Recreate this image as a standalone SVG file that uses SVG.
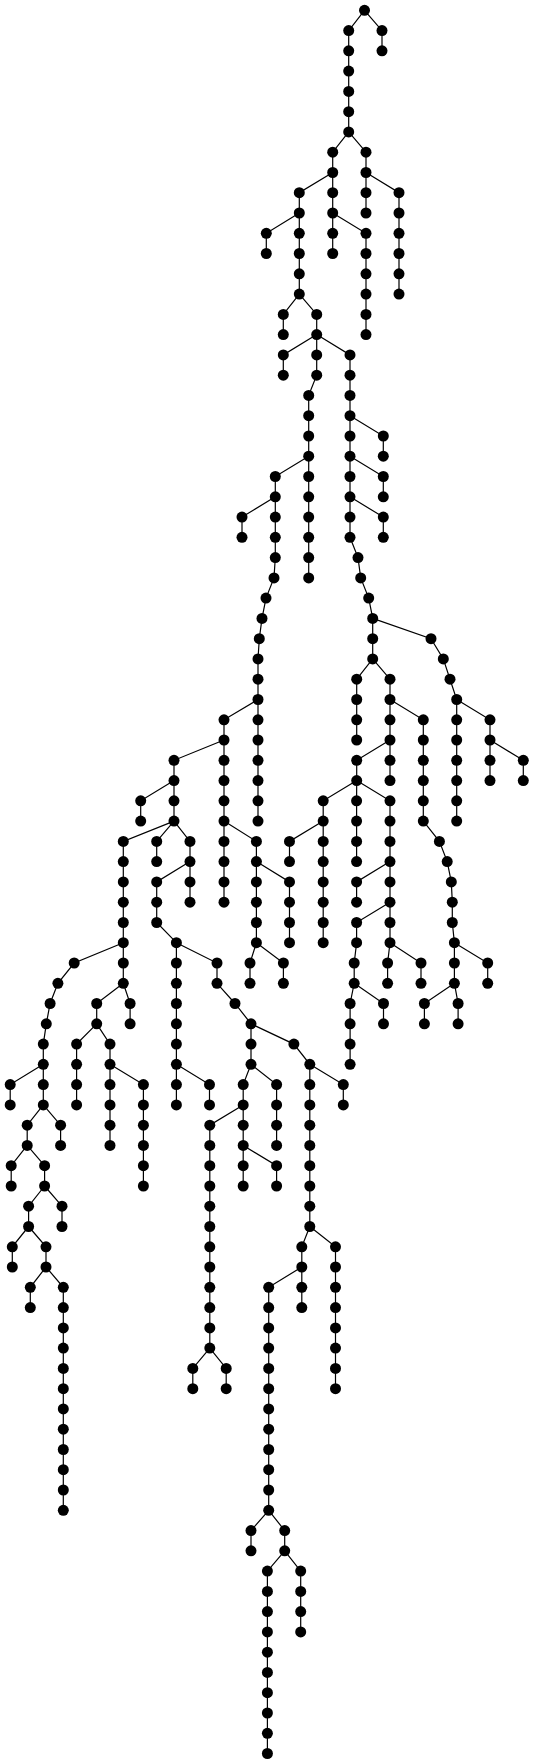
<svg xmlns="http://www.w3.org/2000/svg" width="534" height="1763" viewBox="0 0 534 1763">
<style>
#edges polyline{fill:none;stroke:#000;stroke-width:1.2}
circle{fill:#000}
</style>
<rect width="534" height="1763" fill="#fff"/>
<g id="edges">
<polyline points="364.5,10.3 348.7,30.6 348.7,131.9"/>
<polyline points="364.5,10.3 382,30.6 382,50.8"/>
<polyline points="348.7,131.9 332.7,152.2 332.7,253.5"/>
<polyline points="348.7,131.9 366,152.2 366,213"/>
<polyline points="366,172.5 399,192.7 399,294.1"/>
<polyline points="332.7,172.5 299.3,192.7 299.3,294.1"/>
<polyline points="299.3,213 266.3,233.3 266.3,253.5"/>
<polyline points="332.7,213 366,233.3 366,334.6"/>
<polyline points="299.3,294.1 283.3,314.4 283.3,334.6"/>
<polyline points="299.3,294.1 316.7,314.4 316.7,334.6"/>
<polyline points="316.7,334.6 283.3,354.9 283.3,375.2"/>
<polyline points="316.7,334.6 316.7,375.2 308.7,395.4 308.7,577.9"/>
<polyline points="316.7,334.6 350,354.9 350,537.3 358,557.6 360.7,577.9 368.7,598.1 372.7,618.4 372.7,658.9"/>
<polyline points="350,415.7 383.3,436 383.3,456.2"/>
<polyline points="350,456.2 383.3,476.5 383.3,496.8"/>
<polyline points="350,496.8 383.3,517.1 383.3,537.3"/>
<polyline points="308.7,456.2 275.3,476.5 275.3,557.6 274,577.9 266,598.1 262,618.4 259.3,638.7 258,658.9 258,821.1"/>
<polyline points="275.3,496.8 242,517.1 242,537.3"/>
<polyline points="258,699.5 224,719.8 224,902.2"/>
<polyline points="224,740 174,760.3 174,821.1"/>
<polyline points="174,780.6 140.7,800.8 140.7,821.1"/>
<polyline points="174,821.1 123.3,841.4 123.3,983.3"/>
<polyline points="174,821.1 156.7,841.4 156.7,861.6"/>
<polyline points="174,821.1 190,841.4 190,902.2"/>
<polyline points="190,861.6 156.7,881.9 156.7,922.5 176.4,942.7 176.4,1104.9"/>
<polyline points="176.4,942.7 217,963 217,983.3 235,1003.5 251,1023.8 251,1064.3"/>
<polyline points="176.4,1064.3 209.5,1084.6 209.5,1104.9"/>
<polyline points="251,1064.3 243.2,1084.6 243.2,1186"/>
<polyline points="251,1064.3 276.6,1084.6 276.6,1145.4"/>
<polyline points="243.2,1104.9 209.8,1125.2 209.8,1348.1"/>
<polyline points="209.8,1348.1 192.8,1368.4 192.8,1388.7"/>
<polyline points="209.8,1348.1 226.2,1368.4 226.2,1388.7"/>
<polyline points="243.2,1145.4 276.6,1165.7 276.6,1186"/>
<polyline points="251,1023.8 293.9,1044.1 309.8,1064.3 309.8,1226.5"/>
<polyline points="309.8,1064.3 343.3,1084.6 343.3,1104.9"/>
<polyline points="309.8,1226.5 301.8,1246.8 301.8,1307.6"/>
<polyline points="309.8,1226.5 335.5,1246.8 335.5,1388.7"/>
<polyline points="301.8,1267 268.7,1287.3 268.7,1510.3"/>
<polyline points="268.7,1510.3 251,1530.6 251,1550.8"/>
<polyline points="268.7,1510.3 284.7,1530.6 284.7,1550.8"/>
<polyline points="284.7,1550.8 267.4,1571.1 267.4,1753.5"/>
<polyline points="284.7,1550.8 300.7,1571.1 300.7,1631.9"/>
<polyline points="123.3,942.7 74.2,963 57.9,983.3 50.1,1003.5 46.3,1023.8 43.3,1044.1 43.3,1104.9"/>
<polyline points="123.3,983.3 96.7,1003.5 96.7,1023.8"/>
<polyline points="123.3,983.3 130.1,1003.5 130.1,1023.8"/>
<polyline points="96.7,1023.8 76.6,1044.1 76.6,1104.9"/>
<polyline points="96.7,1023.8 110,1044.1 110,1145.4"/>
<polyline points="110,1064.3 143.4,1084.6 143.4,1186"/>
<polyline points="43.3,1064.3 10.2,1084.6 10.2,1104.9"/>
<polyline points="43.3,1104.9 27.2,1125.2 27.2,1145.4"/>
<polyline points="43.3,1104.9 60.6,1125.2 60.6,1145.4"/>
<polyline points="27.2,1145.4 11.2,1165.7 11.2,1186"/>
<polyline points="27.2,1145.4 44.6,1165.7 44.6,1186"/>
<polyline points="44.6,1186 28.6,1206.2 28.6,1226.5"/>
<polyline points="44.6,1186 62,1206.2 62,1226.5"/>
<polyline points="28.6,1226.5 12.3,1246.8 12.3,1267"/>
<polyline points="28.6,1226.5 46,1246.8 46,1267"/>
<polyline points="46,1267 30.3,1287.3 30.3,1307.6"/>
<polyline points="46,1267 63.3,1287.3 63.3,1510.3"/>
<polyline points="372.7,658.9 356.7,679.2 356.7,740"/>
<polyline points="372.7,658.9 390,679.2 390,780.6"/>
<polyline points="372.7,618.4 431,638.7 443.3,658.9 450,679.2 456.7,699.5 456.7,821.1"/>
<polyline points="456.7,699.5 490,719.8 490,780.6"/>
<polyline points="490,740 523.3,760.3 523.3,780.6"/>
<polyline points="390,699.5 423.3,719.8 423.3,821.1 439.4,841.4 447.2,861.6 451.3,881.9 452.3,902.2 452.3,922.5 454.4,942.7 454.4,983.3"/>
<polyline points="454.4,942.7 487.7,963 487.7,983.3"/>
<polyline points="454.4,983.3 424.4,1003.5 424.4,1023.8"/>
<polyline points="454.4,983.3 458.1,1003.5 458.1,1023.8"/>
<polyline points="390,740 356.7,760.3 356.7,780.6"/>
<polyline points="356.7,780.6 323.2,800.8 323.2,942.7"/>
<polyline points="356.7,780.6 356.6,800.8 356.6,861.6"/>
<polyline points="356.7,780.6 390,800.8 390,942.7"/>
<polyline points="323.2,821.1 289.5,841.4 289.5,861.6"/>
<polyline points="390,861.6 356.6,881.9 356.6,902.2"/>
<polyline points="390,902.2 356.6,922.5 356.6,942.7 354.2,963 354.2,983.3 350.1,1003.5 350.1,1064.3"/>
<polyline points="354.2,983.3 383.5,1003.5 383.5,1023.8"/>
<polyline points="390,942.7 387.6,963 387.6,983.3"/>
<polyline points="390,942.7 421,963 421,983.3"/>
<polyline points="224,821.1 256.4,841.4 256.4,942.7"/>
<polyline points="256.4,861.6 289.5,881.9 289.5,942.7"/>
<polyline points="256.4,942.7 250,963 250,983.3"/>
<polyline points="256.4,942.7 283.4,963 283.4,983.3"/>
</g>
<g id="nodes">
<g id="root"><circle cx="364.5" cy="10.3" r="5.5"/></g>
<g id="a1"><circle cx="348.7" cy="30.6" r="5.5"/></g>
<g id="a2"><circle cx="348.7" cy="50.8" r="5.5"/></g>
<g id="a3"><circle cx="348.7" cy="71.1" r="5.5"/></g>
<g id="a4"><circle cx="348.7" cy="91.4" r="5.5"/></g>
<g id="a5"><circle cx="348.7" cy="111.7" r="5.5"/></g>
<g id="a6"><circle cx="348.7" cy="131.9" r="5.5"/></g>
<g id="b1"><circle cx="382" cy="30.6" r="5.5"/></g>
<g id="b2"><circle cx="382" cy="50.8" r="5.5"/></g>
<g id="A1"><circle cx="332.7" cy="152.2" r="5.5"/></g>
<g id="A2"><circle cx="332.7" cy="172.5" r="5.5"/></g>
<g id="A3"><circle cx="332.7" cy="192.7" r="5.5"/></g>
<g id="A4"><circle cx="332.7" cy="213" r="5.5"/></g>
<g id="A5"><circle cx="332.7" cy="233.3" r="5.5"/></g>
<g id="A6"><circle cx="332.7" cy="253.5" r="5.5"/></g>
<g id="B1"><circle cx="366" cy="152.2" r="5.5"/></g>
<g id="B2"><circle cx="366" cy="172.5" r="5.5"/></g>
<g id="B3"><circle cx="366" cy="192.7" r="5.5"/></g>
<g id="B4"><circle cx="366" cy="213" r="5.5"/></g>
<g id="C1"><circle cx="399" cy="192.7" r="5.5"/></g>
<g id="C2"><circle cx="399" cy="213" r="5.5"/></g>
<g id="C3"><circle cx="399" cy="233.3" r="5.5"/></g>
<g id="C4"><circle cx="399" cy="253.5" r="5.5"/></g>
<g id="C5"><circle cx="399" cy="273.8" r="5.5"/></g>
<g id="C6"><circle cx="399" cy="294.1" r="5.5"/></g>
<g id="D1"><circle cx="299.3" cy="192.7" r="5.5"/></g>
<g id="D2"><circle cx="299.3" cy="213" r="5.5"/></g>
<g id="D3"><circle cx="299.3" cy="233.3" r="5.5"/></g>
<g id="D4"><circle cx="299.3" cy="253.5" r="5.5"/></g>
<g id="D5"><circle cx="299.3" cy="273.8" r="5.5"/></g>
<g id="D6"><circle cx="299.3" cy="294.1" r="5.5"/></g>
<g id="E1"><circle cx="266.3" cy="233.3" r="5.5"/></g>
<g id="E2"><circle cx="266.3" cy="253.5" r="5.5"/></g>
<g id="F1"><circle cx="366" cy="233.3" r="5.5"/></g>
<g id="F2"><circle cx="366" cy="253.5" r="5.5"/></g>
<g id="F3"><circle cx="366" cy="273.8" r="5.5"/></g>
<g id="F4"><circle cx="366" cy="294.1" r="5.5"/></g>
<g id="F5"><circle cx="366" cy="314.4" r="5.5"/></g>
<g id="F6"><circle cx="366" cy="334.6" r="5.5"/></g>
<g id="G1"><circle cx="283.3" cy="314.4" r="5.5"/></g>
<g id="G2"><circle cx="283.3" cy="334.6" r="5.5"/></g>
<g id="H1"><circle cx="316.7" cy="314.4" r="5.5"/></g>
<g id="H2"><circle cx="316.7" cy="334.6" r="5.5"/></g>
<g id="I1"><circle cx="283.3" cy="354.9" r="5.5"/></g>
<g id="I2"><circle cx="283.3" cy="375.2" r="5.5"/></g>
<g id="J1"><circle cx="316.7" cy="354.9" r="5.5"/></g>
<g id="J2"><circle cx="316.7" cy="375.2" r="5.5"/></g>
<g id="J3"><circle cx="308.7" cy="395.4" r="5.5"/></g>
<g id="J4"><circle cx="308.7" cy="415.7" r="5.5"/></g>
<g id="J5"><circle cx="308.7" cy="436" r="5.5"/></g>
<g id="J6"><circle cx="308.7" cy="456.2" r="5.5"/></g>
<g id="J7"><circle cx="308.7" cy="476.5" r="5.5"/></g>
<g id="J8"><circle cx="308.7" cy="496.8" r="5.5"/></g>
<g id="J9"><circle cx="308.7" cy="517.1" r="5.5"/></g>
<g id="J10"><circle cx="308.7" cy="537.3" r="5.5"/></g>
<g id="J11"><circle cx="308.7" cy="557.6" r="5.5"/></g>
<g id="J12"><circle cx="308.7" cy="577.9" r="5.5"/></g>
<g id="K1"><circle cx="350" cy="354.9" r="5.5"/></g>
<g id="K2"><circle cx="350" cy="375.2" r="5.5"/></g>
<g id="K3"><circle cx="350" cy="395.4" r="5.5"/></g>
<g id="K4"><circle cx="350" cy="415.7" r="5.5"/></g>
<g id="K5"><circle cx="350" cy="436" r="5.5"/></g>
<g id="K6"><circle cx="350" cy="456.2" r="5.5"/></g>
<g id="K7"><circle cx="350" cy="476.5" r="5.5"/></g>
<g id="K8"><circle cx="350" cy="496.8" r="5.5"/></g>
<g id="K9"><circle cx="350" cy="517.1" r="5.5"/></g>
<g id="K10"><circle cx="350" cy="537.3" r="5.5"/></g>
<g id="K11"><circle cx="358" cy="557.6" r="5.5"/></g>
<g id="K12"><circle cx="360.7" cy="577.9" r="5.5"/></g>
<g id="K13"><circle cx="368.7" cy="598.1" r="5.5"/></g>
<g id="K14"><circle cx="372.7" cy="618.4" r="5.5"/></g>
<g id="K15"><circle cx="372.7" cy="638.7" r="5.5"/></g>
<g id="K16"><circle cx="372.7" cy="658.9" r="5.5"/></g>
<g id="L1a"><circle cx="383.3" cy="436" r="5.5"/></g>
<g id="L1b"><circle cx="383.3" cy="456.2" r="5.5"/></g>
<g id="L2a"><circle cx="383.3" cy="476.5" r="5.5"/></g>
<g id="L2b"><circle cx="383.3" cy="496.8" r="5.5"/></g>
<g id="L3a"><circle cx="383.3" cy="517.1" r="5.5"/></g>
<g id="L3b"><circle cx="383.3" cy="537.3" r="5.5"/></g>
<g id="M1"><circle cx="275.3" cy="476.5" r="5.5"/></g>
<g id="M2"><circle cx="275.3" cy="496.8" r="5.5"/></g>
<g id="M3"><circle cx="275.3" cy="517.1" r="5.5"/></g>
<g id="M4"><circle cx="275.3" cy="537.3" r="5.5"/></g>
<g id="M5"><circle cx="275.3" cy="557.6" r="5.5"/></g>
<g id="M6"><circle cx="274" cy="577.9" r="5.5"/></g>
<g id="M7"><circle cx="266" cy="598.1" r="5.5"/></g>
<g id="M8"><circle cx="262" cy="618.4" r="5.5"/></g>
<g id="M9"><circle cx="259.3" cy="638.7" r="5.5"/></g>
<g id="M10"><circle cx="258" cy="658.9" r="5.5"/></g>
<g id="M11"><circle cx="258" cy="679.2" r="5.5"/></g>
<g id="M12"><circle cx="258" cy="699.5" r="5.5"/></g>
<g id="M13"><circle cx="258" cy="719.8" r="5.5"/></g>
<g id="M14"><circle cx="258" cy="740" r="5.5"/></g>
<g id="M15"><circle cx="258" cy="760.3" r="5.5"/></g>
<g id="M16"><circle cx="258" cy="780.6" r="5.5"/></g>
<g id="M17"><circle cx="258" cy="800.8" r="5.5"/></g>
<g id="M18"><circle cx="258" cy="821.1" r="5.5"/></g>
<g id="N1"><circle cx="242" cy="517.1" r="5.5"/></g>
<g id="N2"><circle cx="242" cy="537.3" r="5.5"/></g>
<g id="O1"><circle cx="224" cy="719.8" r="5.5"/></g>
<g id="O2"><circle cx="224" cy="740" r="5.5"/></g>
<g id="O3"><circle cx="224" cy="760.3" r="5.5"/></g>
<g id="O4"><circle cx="224" cy="780.6" r="5.5"/></g>
<g id="O5"><circle cx="224" cy="800.8" r="5.5"/></g>
<g id="O6"><circle cx="224" cy="821.1" r="5.5"/></g>
<g id="O7"><circle cx="224" cy="841.4" r="5.5"/></g>
<g id="O8"><circle cx="224" cy="861.6" r="5.5"/></g>
<g id="O9"><circle cx="224" cy="881.9" r="5.5"/></g>
<g id="O10"><circle cx="224" cy="902.2" r="5.5"/></g>
<g id="P1"><circle cx="174" cy="760.3" r="5.5"/></g>
<g id="P2"><circle cx="174" cy="780.6" r="5.5"/></g>
<g id="P3"><circle cx="174" cy="800.8" r="5.5"/></g>
<g id="P4"><circle cx="174" cy="821.1" r="5.5"/></g>
<g id="Q1"><circle cx="140.7" cy="800.8" r="5.5"/></g>
<g id="Q2"><circle cx="140.7" cy="821.1" r="5.5"/></g>
<g id="R1"><circle cx="123.3" cy="841.4" r="5.5"/></g>
<g id="R2"><circle cx="123.3" cy="861.6" r="5.5"/></g>
<g id="R3"><circle cx="123.3" cy="881.9" r="5.5"/></g>
<g id="R4"><circle cx="123.3" cy="902.2" r="5.5"/></g>
<g id="R5"><circle cx="123.3" cy="922.5" r="5.5"/></g>
<g id="R6"><circle cx="123.3" cy="942.7" r="5.5"/></g>
<g id="R7"><circle cx="123.3" cy="963" r="5.5"/></g>
<g id="R8"><circle cx="123.3" cy="983.3" r="5.5"/></g>
<g id="S1"><circle cx="156.7" cy="841.4" r="5.5"/></g>
<g id="S2"><circle cx="156.7" cy="861.6" r="5.5"/></g>
<g id="T1"><circle cx="190" cy="841.4" r="5.5"/></g>
<g id="T2"><circle cx="190" cy="861.6" r="5.5"/></g>
<g id="T3"><circle cx="190" cy="881.9" r="5.5"/></g>
<g id="T4"><circle cx="190" cy="902.2" r="5.5"/></g>
<g id="U1"><circle cx="156.7" cy="881.9" r="5.5"/></g>
<g id="U2"><circle cx="156.7" cy="902.2" r="5.5"/></g>
<g id="U3"><circle cx="156.7" cy="922.5" r="5.5"/></g>
<g id="U4"><circle cx="176.4" cy="942.7" r="5.5"/></g>
<g id="U5"><circle cx="176.4" cy="963" r="5.5"/></g>
<g id="U6"><circle cx="176.4" cy="983.3" r="5.5"/></g>
<g id="U7"><circle cx="176.4" cy="1003.5" r="5.5"/></g>
<g id="U8"><circle cx="176.4" cy="1023.8" r="5.5"/></g>
<g id="U9"><circle cx="176.4" cy="1044.1" r="5.5"/></g>
<g id="U10"><circle cx="176.4" cy="1064.3" r="5.5"/></g>
<g id="U11"><circle cx="176.4" cy="1084.6" r="5.5"/></g>
<g id="U12"><circle cx="176.4" cy="1104.9" r="5.5"/></g>
<g id="V1"><circle cx="217" cy="963" r="5.5"/></g>
<g id="V2"><circle cx="217" cy="983.3" r="5.5"/></g>
<g id="V3"><circle cx="235" cy="1003.5" r="5.5"/></g>
<g id="V4"><circle cx="251" cy="1023.8" r="5.5"/></g>
<g id="V5"><circle cx="251" cy="1044.1" r="5.5"/></g>
<g id="V6"><circle cx="251" cy="1064.3" r="5.5"/></g>
<g id="W1"><circle cx="209.5" cy="1084.6" r="5.5"/></g>
<g id="W2"><circle cx="209.5" cy="1104.9" r="5.5"/></g>
<g id="X1"><circle cx="243.2" cy="1084.6" r="5.5"/></g>
<g id="X2"><circle cx="243.2" cy="1104.9" r="5.5"/></g>
<g id="X3"><circle cx="243.2" cy="1125.2" r="5.5"/></g>
<g id="X4"><circle cx="243.2" cy="1145.4" r="5.5"/></g>
<g id="X5"><circle cx="243.2" cy="1165.7" r="5.5"/></g>
<g id="X6"><circle cx="243.2" cy="1186" r="5.5"/></g>
<g id="Y1"><circle cx="276.6" cy="1084.6" r="5.5"/></g>
<g id="Y2"><circle cx="276.6" cy="1104.9" r="5.5"/></g>
<g id="Y3"><circle cx="276.6" cy="1125.2" r="5.5"/></g>
<g id="Y4"><circle cx="276.6" cy="1145.4" r="5.5"/></g>
<g id="Z1"><circle cx="209.8" cy="1125.2" r="5.5"/></g>
<g id="Z2"><circle cx="209.8" cy="1145.4" r="5.5"/></g>
<g id="Z3"><circle cx="209.8" cy="1165.7" r="5.5"/></g>
<g id="Z4"><circle cx="209.8" cy="1186" r="5.5"/></g>
<g id="Z5"><circle cx="209.8" cy="1206.2" r="5.5"/></g>
<g id="Z6"><circle cx="209.8" cy="1226.5" r="5.5"/></g>
<g id="Z7"><circle cx="209.8" cy="1246.8" r="5.5"/></g>
<g id="Z8"><circle cx="209.8" cy="1267" r="5.5"/></g>
<g id="Z9"><circle cx="209.8" cy="1287.3" r="5.5"/></g>
<g id="Z10"><circle cx="209.8" cy="1307.6" r="5.5"/></g>
<g id="Z11"><circle cx="209.8" cy="1327.9" r="5.5"/></g>
<g id="Z12"><circle cx="209.8" cy="1348.1" r="5.5"/></g>
<g id="Za1"><circle cx="192.8" cy="1368.4" r="5.5"/></g>
<g id="Za2"><circle cx="192.8" cy="1388.7" r="5.5"/></g>
<g id="Zb1"><circle cx="226.2" cy="1368.4" r="5.5"/></g>
<g id="Zb2"><circle cx="226.2" cy="1388.7" r="5.5"/></g>
<g id="AA1"><circle cx="276.6" cy="1165.7" r="5.5"/></g>
<g id="AA2"><circle cx="276.6" cy="1186" r="5.5"/></g>
<g id="AB1"><circle cx="293.9" cy="1044.1" r="5.5"/></g>
<g id="AB2"><circle cx="309.8" cy="1064.3" r="5.5"/></g>
<g id="AB3"><circle cx="309.8" cy="1084.6" r="5.5"/></g>
<g id="AB4"><circle cx="309.8" cy="1104.9" r="5.5"/></g>
<g id="AB5"><circle cx="309.8" cy="1125.2" r="5.5"/></g>
<g id="AB6"><circle cx="309.8" cy="1145.4" r="5.5"/></g>
<g id="AB7"><circle cx="309.8" cy="1165.7" r="5.5"/></g>
<g id="AB8"><circle cx="309.8" cy="1186" r="5.5"/></g>
<g id="AB9"><circle cx="309.8" cy="1206.2" r="5.5"/></g>
<g id="AB10"><circle cx="309.8" cy="1226.5" r="5.5"/></g>
<g id="AC1"><circle cx="343.3" cy="1084.6" r="5.5"/></g>
<g id="AC2"><circle cx="343.3" cy="1104.9" r="5.5"/></g>
<g id="AD1"><circle cx="301.8" cy="1246.8" r="5.5"/></g>
<g id="AD2"><circle cx="301.8" cy="1267" r="5.5"/></g>
<g id="AD3"><circle cx="301.8" cy="1287.3" r="5.5"/></g>
<g id="AD4"><circle cx="301.8" cy="1307.6" r="5.5"/></g>
<g id="AE1"><circle cx="335.5" cy="1246.8" r="5.5"/></g>
<g id="AE2"><circle cx="335.5" cy="1267" r="5.5"/></g>
<g id="AE3"><circle cx="335.5" cy="1287.3" r="5.5"/></g>
<g id="AE4"><circle cx="335.5" cy="1307.6" r="5.5"/></g>
<g id="AE5"><circle cx="335.5" cy="1327.9" r="5.5"/></g>
<g id="AE6"><circle cx="335.5" cy="1348.1" r="5.5"/></g>
<g id="AE7"><circle cx="335.5" cy="1368.4" r="5.5"/></g>
<g id="AE8"><circle cx="335.5" cy="1388.7" r="5.5"/></g>
<g id="AF1"><circle cx="268.7" cy="1287.3" r="5.5"/></g>
<g id="AF2"><circle cx="268.7" cy="1307.6" r="5.5"/></g>
<g id="AF3"><circle cx="268.7" cy="1327.9" r="5.5"/></g>
<g id="AF4"><circle cx="268.7" cy="1348.1" r="5.5"/></g>
<g id="AF5"><circle cx="268.7" cy="1368.4" r="5.5"/></g>
<g id="AF6"><circle cx="268.7" cy="1388.7" r="5.5"/></g>
<g id="AF7"><circle cx="268.7" cy="1408.9" r="5.5"/></g>
<g id="AF8"><circle cx="268.7" cy="1429.2" r="5.5"/></g>
<g id="AF9"><circle cx="268.7" cy="1449.5" r="5.5"/></g>
<g id="AF10"><circle cx="268.7" cy="1469.7" r="5.5"/></g>
<g id="AF11"><circle cx="268.7" cy="1490" r="5.5"/></g>
<g id="AF12"><circle cx="268.7" cy="1510.3" r="5.5"/></g>
<g id="AG1"><circle cx="251" cy="1530.6" r="5.5"/></g>
<g id="AG2"><circle cx="251" cy="1550.8" r="5.5"/></g>
<g id="AH1"><circle cx="284.7" cy="1530.6" r="5.5"/></g>
<g id="AH2"><circle cx="284.7" cy="1550.8" r="5.5"/></g>
<g id="AI1"><circle cx="267.4" cy="1571.1" r="5.5"/></g>
<g id="AI2"><circle cx="267.4" cy="1591.4" r="5.5"/></g>
<g id="AI3"><circle cx="267.4" cy="1611.6" r="5.5"/></g>
<g id="AI4"><circle cx="267.4" cy="1631.9" r="5.5"/></g>
<g id="AI5"><circle cx="267.4" cy="1652.2" r="5.5"/></g>
<g id="AI6"><circle cx="267.4" cy="1672.4" r="5.5"/></g>
<g id="AI7"><circle cx="267.4" cy="1692.7" r="5.5"/></g>
<g id="AI8"><circle cx="267.4" cy="1713" r="5.5"/></g>
<g id="AI9"><circle cx="267.4" cy="1733.3" r="5.5"/></g>
<g id="AI10"><circle cx="267.4" cy="1753.5" r="5.5"/></g>
<g id="AJ1"><circle cx="300.7" cy="1571.1" r="5.5"/></g>
<g id="AJ2"><circle cx="300.7" cy="1591.4" r="5.5"/></g>
<g id="AJ3"><circle cx="300.7" cy="1611.6" r="5.5"/></g>
<g id="AJ4"><circle cx="300.7" cy="1631.9" r="5.5"/></g>
<g id="LA1"><circle cx="74.2" cy="963" r="5.5"/></g>
<g id="LA2"><circle cx="57.9" cy="983.3" r="5.5"/></g>
<g id="LA3"><circle cx="50.1" cy="1003.5" r="5.5"/></g>
<g id="LA4"><circle cx="46.3" cy="1023.8" r="5.5"/></g>
<g id="LA5"><circle cx="43.3" cy="1044.1" r="5.5"/></g>
<g id="LA6"><circle cx="43.3" cy="1064.3" r="5.5"/></g>
<g id="LA7"><circle cx="43.3" cy="1084.6" r="5.5"/></g>
<g id="LA8"><circle cx="43.3" cy="1104.9" r="5.5"/></g>
<g id="BA1"><circle cx="96.7" cy="1003.5" r="5.5"/></g>
<g id="BA2"><circle cx="96.7" cy="1023.8" r="5.5"/></g>
<g id="BB1"><circle cx="130.1" cy="1003.5" r="5.5"/></g>
<g id="BB2"><circle cx="130.1" cy="1023.8" r="5.5"/></g>
<g id="BC1"><circle cx="76.6" cy="1044.1" r="5.5"/></g>
<g id="BC2"><circle cx="76.6" cy="1064.3" r="5.5"/></g>
<g id="BC3"><circle cx="76.6" cy="1084.6" r="5.5"/></g>
<g id="BC4"><circle cx="76.6" cy="1104.9" r="5.5"/></g>
<g id="BD1"><circle cx="110" cy="1044.1" r="5.5"/></g>
<g id="BD2"><circle cx="110" cy="1064.3" r="5.5"/></g>
<g id="BD3"><circle cx="110" cy="1084.6" r="5.5"/></g>
<g id="BD4"><circle cx="110" cy="1104.9" r="5.5"/></g>
<g id="BD5"><circle cx="110" cy="1125.2" r="5.5"/></g>
<g id="BD6"><circle cx="110" cy="1145.4" r="5.5"/></g>
<g id="BE1"><circle cx="143.4" cy="1084.6" r="5.5"/></g>
<g id="BE2"><circle cx="143.4" cy="1104.9" r="5.5"/></g>
<g id="BE3"><circle cx="143.4" cy="1125.2" r="5.5"/></g>
<g id="BE4"><circle cx="143.4" cy="1145.4" r="5.5"/></g>
<g id="BE5"><circle cx="143.4" cy="1165.7" r="5.5"/></g>
<g id="BE6"><circle cx="143.4" cy="1186" r="5.5"/></g>
<g id="BF1"><circle cx="10.2" cy="1084.6" r="5.5"/></g>
<g id="BF2"><circle cx="10.2" cy="1104.9" r="5.5"/></g>
<g id="BG1"><circle cx="27.2" cy="1125.2" r="5.5"/></g>
<g id="BG2"><circle cx="27.2" cy="1145.4" r="5.5"/></g>
<g id="BH1"><circle cx="60.6" cy="1125.2" r="5.5"/></g>
<g id="BH2"><circle cx="60.6" cy="1145.4" r="5.5"/></g>
<g id="BI1"><circle cx="11.2" cy="1165.7" r="5.5"/></g>
<g id="BI2"><circle cx="11.2" cy="1186" r="5.5"/></g>
<g id="BJ1"><circle cx="44.6" cy="1165.7" r="5.5"/></g>
<g id="BJ2"><circle cx="44.6" cy="1186" r="5.5"/></g>
<g id="BK1"><circle cx="28.6" cy="1206.2" r="5.5"/></g>
<g id="BK2"><circle cx="28.6" cy="1226.5" r="5.5"/></g>
<g id="BL1"><circle cx="62" cy="1206.2" r="5.5"/></g>
<g id="BL2"><circle cx="62" cy="1226.5" r="5.5"/></g>
<g id="BM1"><circle cx="12.3" cy="1246.8" r="5.5"/></g>
<g id="BM2"><circle cx="12.3" cy="1267" r="5.5"/></g>
<g id="BN1"><circle cx="46" cy="1246.8" r="5.5"/></g>
<g id="BN2"><circle cx="46" cy="1267" r="5.5"/></g>
<g id="BO1"><circle cx="30.3" cy="1287.3" r="5.5"/></g>
<g id="BO2"><circle cx="30.3" cy="1307.6" r="5.5"/></g>
<g id="BP1"><circle cx="63.3" cy="1287.3" r="5.5"/></g>
<g id="BP2"><circle cx="63.3" cy="1307.6" r="5.5"/></g>
<g id="BP3"><circle cx="63.3" cy="1327.9" r="5.5"/></g>
<g id="BP4"><circle cx="63.3" cy="1348.1" r="5.5"/></g>
<g id="BP5"><circle cx="63.3" cy="1368.4" r="5.5"/></g>
<g id="BP6"><circle cx="63.3" cy="1388.7" r="5.5"/></g>
<g id="BP7"><circle cx="63.3" cy="1408.9" r="5.5"/></g>
<g id="BP8"><circle cx="63.3" cy="1429.2" r="5.5"/></g>
<g id="BP9"><circle cx="63.3" cy="1449.5" r="5.5"/></g>
<g id="BP10"><circle cx="63.3" cy="1469.7" r="5.5"/></g>
<g id="BP11"><circle cx="63.3" cy="1490" r="5.5"/></g>
<g id="BP12"><circle cx="63.3" cy="1510.3" r="5.5"/></g>
<g id="CA1"><circle cx="356.7" cy="679.2" r="5.5"/></g>
<g id="CA2"><circle cx="356.7" cy="699.5" r="5.5"/></g>
<g id="CA3"><circle cx="356.7" cy="719.8" r="5.5"/></g>
<g id="CA4"><circle cx="356.7" cy="740" r="5.5"/></g>
<g id="CB1"><circle cx="390" cy="679.2" r="5.5"/></g>
<g id="CB2"><circle cx="390" cy="699.5" r="5.5"/></g>
<g id="CB3"><circle cx="390" cy="719.8" r="5.5"/></g>
<g id="CB4"><circle cx="390" cy="740" r="5.5"/></g>
<g id="CB5"><circle cx="390" cy="760.3" r="5.5"/></g>
<g id="CB6"><circle cx="390" cy="780.6" r="5.5"/></g>
<g id="CC1"><circle cx="431" cy="638.7" r="5.5"/></g>
<g id="CC2"><circle cx="443.3" cy="658.9" r="5.5"/></g>
<g id="CC3"><circle cx="450" cy="679.2" r="5.5"/></g>
<g id="CC4"><circle cx="456.7" cy="699.5" r="5.5"/></g>
<g id="CC5"><circle cx="456.7" cy="719.8" r="5.5"/></g>
<g id="CC6"><circle cx="456.7" cy="740" r="5.5"/></g>
<g id="CC7"><circle cx="456.7" cy="760.3" r="5.5"/></g>
<g id="CC8"><circle cx="456.7" cy="780.6" r="5.5"/></g>
<g id="CC9"><circle cx="456.7" cy="800.8" r="5.5"/></g>
<g id="CC10"><circle cx="456.7" cy="821.1" r="5.5"/></g>
<g id="CD1"><circle cx="490" cy="719.8" r="5.5"/></g>
<g id="CD2"><circle cx="490" cy="740" r="5.5"/></g>
<g id="CD3"><circle cx="490" cy="760.3" r="5.5"/></g>
<g id="CD4"><circle cx="490" cy="780.6" r="5.5"/></g>
<g id="CE1"><circle cx="523.3" cy="760.3" r="5.5"/></g>
<g id="CE2"><circle cx="523.3" cy="780.6" r="5.5"/></g>
<g id="CF1"><circle cx="423.3" cy="719.8" r="5.5"/></g>
<g id="CF2"><circle cx="423.3" cy="740" r="5.5"/></g>
<g id="CF3"><circle cx="423.3" cy="760.3" r="5.5"/></g>
<g id="CF4"><circle cx="423.3" cy="780.6" r="5.5"/></g>
<g id="CF5"><circle cx="423.3" cy="800.8" r="5.5"/></g>
<g id="CF6"><circle cx="423.3" cy="821.1" r="5.5"/></g>
<g id="CF7"><circle cx="439.4" cy="841.4" r="5.5"/></g>
<g id="CF8"><circle cx="447.2" cy="861.6" r="5.5"/></g>
<g id="CF9"><circle cx="451.3" cy="881.9" r="5.5"/></g>
<g id="CF10"><circle cx="452.3" cy="902.2" r="5.5"/></g>
<g id="CF11"><circle cx="452.3" cy="922.5" r="5.5"/></g>
<g id="CF12"><circle cx="454.4" cy="942.7" r="5.5"/></g>
<g id="CF13"><circle cx="454.4" cy="963" r="5.5"/></g>
<g id="CF14"><circle cx="454.4" cy="983.3" r="5.5"/></g>
<g id="CG1"><circle cx="487.7" cy="963" r="5.5"/></g>
<g id="CG2"><circle cx="487.7" cy="983.3" r="5.5"/></g>
<g id="CH1"><circle cx="424.4" cy="1003.5" r="5.5"/></g>
<g id="CH2"><circle cx="424.4" cy="1023.8" r="5.5"/></g>
<g id="CI1"><circle cx="458.1" cy="1003.5" r="5.5"/></g>
<g id="CI2"><circle cx="458.1" cy="1023.8" r="5.5"/></g>
<g id="CJ1"><circle cx="356.7" cy="760.3" r="5.5"/></g>
<g id="CJ2"><circle cx="356.7" cy="780.6" r="5.5"/></g>
<g id="CK1"><circle cx="323.2" cy="800.8" r="5.5"/></g>
<g id="CK2"><circle cx="323.2" cy="821.1" r="5.5"/></g>
<g id="CK3"><circle cx="323.2" cy="841.4" r="5.5"/></g>
<g id="CK4"><circle cx="323.2" cy="861.6" r="5.5"/></g>
<g id="CK5"><circle cx="323.2" cy="881.9" r="5.5"/></g>
<g id="CK6"><circle cx="323.2" cy="902.2" r="5.5"/></g>
<g id="CK7"><circle cx="323.2" cy="922.5" r="5.5"/></g>
<g id="CK8"><circle cx="323.2" cy="942.7" r="5.5"/></g>
<g id="CL1"><circle cx="356.6" cy="800.8" r="5.5"/></g>
<g id="CL2"><circle cx="356.6" cy="821.1" r="5.5"/></g>
<g id="CL3"><circle cx="356.6" cy="841.4" r="5.5"/></g>
<g id="CL4"><circle cx="356.6" cy="861.6" r="5.5"/></g>
<g id="CM1"><circle cx="390" cy="800.8" r="5.5"/></g>
<g id="CM2"><circle cx="390" cy="821.1" r="5.5"/></g>
<g id="CM3"><circle cx="390" cy="841.4" r="5.5"/></g>
<g id="CM4"><circle cx="390" cy="861.6" r="5.5"/></g>
<g id="CM5"><circle cx="390" cy="881.9" r="5.5"/></g>
<g id="CM6"><circle cx="390" cy="902.2" r="5.5"/></g>
<g id="CM7"><circle cx="390" cy="922.5" r="5.5"/></g>
<g id="CM8"><circle cx="390" cy="942.7" r="5.5"/></g>
<g id="CN1"><circle cx="289.5" cy="841.4" r="5.5"/></g>
<g id="CN2"><circle cx="289.5" cy="861.6" r="5.5"/></g>
<g id="CO1"><circle cx="356.6" cy="881.9" r="5.5"/></g>
<g id="CO2"><circle cx="356.6" cy="902.2" r="5.5"/></g>
<g id="CP1"><circle cx="356.6" cy="922.5" r="5.5"/></g>
<g id="CP2"><circle cx="356.6" cy="942.7" r="5.5"/></g>
<g id="CP3"><circle cx="354.2" cy="963" r="5.5"/></g>
<g id="CP4"><circle cx="354.2" cy="983.3" r="5.5"/></g>
<g id="CP5"><circle cx="350.1" cy="1003.5" r="5.5"/></g>
<g id="CP6"><circle cx="350.1" cy="1023.8" r="5.5"/></g>
<g id="CP7"><circle cx="350.1" cy="1044.1" r="5.5"/></g>
<g id="CP8"><circle cx="350.1" cy="1064.3" r="5.5"/></g>
<g id="CQ1"><circle cx="383.5" cy="1003.5" r="5.5"/></g>
<g id="CQ2"><circle cx="383.5" cy="1023.8" r="5.5"/></g>
<g id="CR1"><circle cx="387.6" cy="963" r="5.5"/></g>
<g id="CR2"><circle cx="387.6" cy="983.3" r="5.5"/></g>
<g id="CS1"><circle cx="421" cy="963" r="5.5"/></g>
<g id="CS2"><circle cx="421" cy="983.3" r="5.5"/></g>
<g id="DA1"><circle cx="256.4" cy="841.4" r="5.5"/></g>
<g id="DA2"><circle cx="256.4" cy="861.6" r="5.5"/></g>
<g id="DA3"><circle cx="256.4" cy="881.9" r="5.5"/></g>
<g id="DA4"><circle cx="256.4" cy="902.2" r="5.5"/></g>
<g id="DA5"><circle cx="256.4" cy="922.5" r="5.5"/></g>
<g id="DA6"><circle cx="256.4" cy="942.7" r="5.5"/></g>
<g id="DB1"><circle cx="289.5" cy="881.9" r="5.5"/></g>
<g id="DB2"><circle cx="289.5" cy="902.2" r="5.5"/></g>
<g id="DB3"><circle cx="289.5" cy="922.5" r="5.5"/></g>
<g id="DB4"><circle cx="289.5" cy="942.7" r="5.5"/></g>
<g id="DC1"><circle cx="250" cy="963" r="5.5"/></g>
<g id="DC2"><circle cx="250" cy="983.3" r="5.5"/></g>
<g id="DD1"><circle cx="283.4" cy="963" r="5.5"/></g>
<g id="DD2"><circle cx="283.4" cy="983.3" r="5.5"/></g>
</g>
</svg>
